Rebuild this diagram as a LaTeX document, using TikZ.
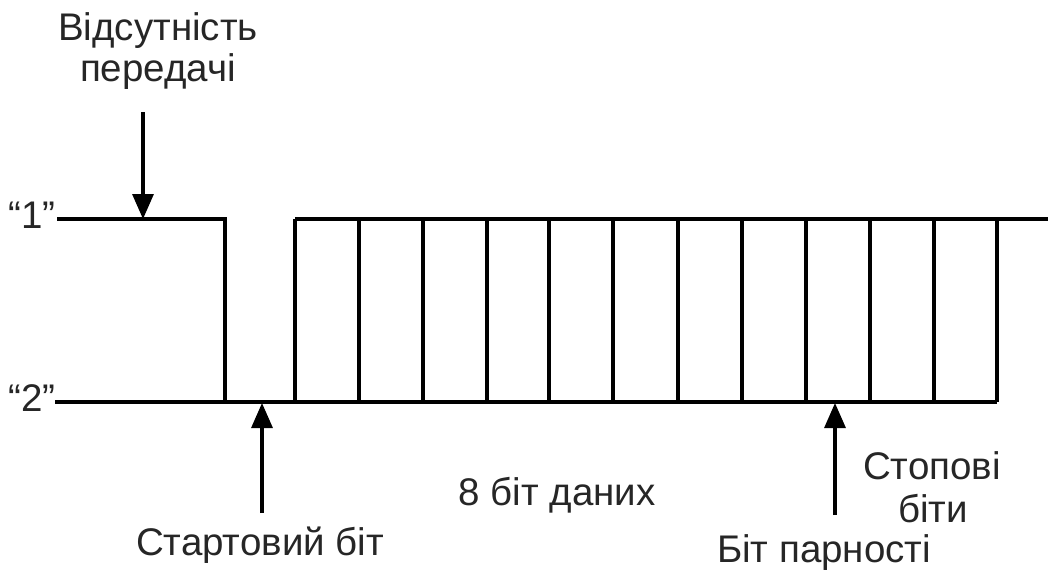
\documentclass[tikz,border=0pt]{standalone}
\usepackage{fontspec}
\setmainfont{Liberation Sans}
\usetikzlibrary{arrows.meta}
\begin{document}
\begin{tikzpicture}[x=1pt,y=-1pt,
  wave/.style={line width=3.2pt, line join=miter},
  lbl/.style={font=\fontsize{38.5}{43}\selectfont, inner sep=0pt, anchor=base, text=black!85},
  pointer/.style={line width=3.2pt, -{Triangle[length=25pt,width=21pt]}}]
\useasboundingbox (0,0) rectangle (1048,571);
% texts
\node[lbl] (absent1) at (158,40) {Відсутність};
\node[lbl] (absent2) at (158,81) {передачі};
\node[lbl, anchor=base east] (one) at (56,228) {“1”};
\node[lbl, anchor=base east] (two) at (56,411) {“2”};
\node[lbl] (start) at (260,555) {Стартовий біт};
\node[lbl] (data) at (557,505) {8 біт даних};
\node[lbl] (stop1) at (932,479) {Стопові};
\node[lbl] (stop2) at (933,522) {біти};
\node[lbl] (parity) at (824,562) {Біт парності};
% waveform
\coordinate (hiL) at (57,219);
\coordinate (fall) at (225,219);
\coordinate (fallB) at (225,402);
\coordinate (loL) at (55,402);
\coordinate (loR) at (997,402);
\coordinate (hiR) at (1048,219);
\draw[wave] (hiL) -- (fall) -- (fallB);
\draw[wave] (loL) -- (loR);
\draw[wave] (295,219) -- (hiR);
\foreach \x in {295,359,423,487,549,613,678,742,806,870,934,997}
  \draw[wave] (\x,219) -- (\x,402);
% arrows
\coordinate (a1t) at (143,112); \coordinate (a1h) at (143,219);
\coordinate (a2t) at (262,513); \coordinate (a2h) at (262,403);
\coordinate (a3t) at (835,515); \coordinate (a3h) at (835,403);
\draw[pointer] (a1t) -- (a1h);
\draw[pointer] (a2t) -- (a2h);
\draw[pointer] (a3t) -- (a3h);
\end{tikzpicture}
\end{document}
